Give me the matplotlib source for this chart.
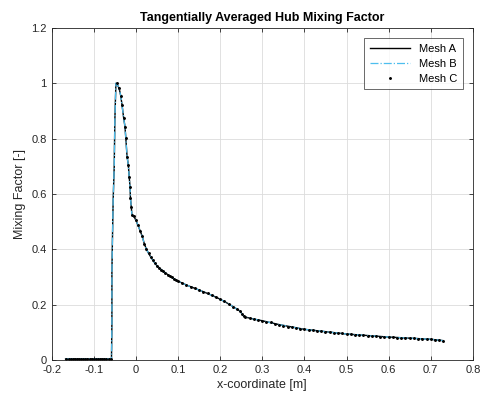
import numpy as np
import matplotlib
matplotlib.use('Agg')
import matplotlib.pyplot as plt

plt.rcParams['font.family'] = ['Liberation Sans', 'DejaVu Sans']

### Data
# Mesh A / Mesh B: line through the main shape
line_x = [-0.167, -0.06, -0.058, -0.057, -0.057, -0.055, -0.054, -0.0515, -0.0515, -0.050,
          -0.0475, -0.046, -0.040, -0.036, -0.033, -0.029, -0.026, -0.024, -0.021, -0.018,
          -0.016, -0.014, -0.013, -0.011, -0.0095, -0.005, 0.000, 0.005, 0.010, 0.015,
          0.020, 0.025, 0.030, 0.035, 0.040, 0.045, 0.050, 0.060, 0.070, 0.080,
          0.090, 0.100, 0.120, 0.140, 0.160, 0.180, 0.200, 0.220, 0.240, 0.248,
          0.252, 0.256, 0.260, 0.280, 0.300, 0.340, 0.400, 0.500, 0.600, 0.700,
          0.730]
line_y = [0.004, 0.004, 0.006, 0.134, 0.320, 0.500, 0.580, 0.700, 0.700, 0.868,
          1.000, 1.000, 0.983, 0.955, 0.922, 0.874, 0.844, 0.802, 0.735, 0.705,
          0.663, 0.627, 0.585, 0.554, 0.524, 0.520, 0.505, 0.487, 0.467, 0.447,
          0.420, 0.400, 0.386, 0.373, 0.361, 0.350, 0.341, 0.327, 0.315, 0.304,
          0.294, 0.285, 0.271, 0.259, 0.247, 0.234, 0.220, 0.203, 0.184, 0.176,
          0.166, 0.158, 0.155, 0.148, 0.142, 0.128, 0.111, 0.094, 0.083, 0.075,
          0.070]

# Mesh C: sampled points
dots_x = [-0.165, -0.160, -0.155, -0.150, -0.145, -0.140, -0.135, -0.130, -0.125, -0.120,
          -0.115, -0.110, -0.105, -0.100, -0.095, -0.090, -0.085, -0.080, -0.075, -0.070,
          -0.065, -0.060,
          -0.046, -0.040, -0.036, -0.033, -0.029, -0.026, -0.024, -0.021, -0.018, -0.016,
          -0.014, -0.013, -0.011, -0.0095,
          -0.005, 0.000, 0.005, 0.010, 0.015, 0.020, 0.025, 0.030, 0.035, 0.040,
          0.045, 0.050, 0.055, 0.060, 0.065, 0.070, 0.075, 0.080, 0.085, 0.090,
          0.095, 0.100, 0.110, 0.120, 0.130, 0.140, 0.150, 0.160, 0.170, 0.180,
          0.190, 0.200, 0.210, 0.220, 0.230, 0.240, 0.248, 0.252, 0.256, 0.260,
          0.270, 0.280, 0.290, 0.300, 0.310, 0.320, 0.330, 0.340, 0.350, 0.360,
          0.370, 0.380, 0.390, 0.400, 0.410, 0.420, 0.430, 0.440, 0.450, 0.460,
          0.470, 0.480, 0.490, 0.500, 0.510, 0.520, 0.530, 0.540, 0.550, 0.560,
          0.570, 0.580, 0.590, 0.600, 0.610, 0.620, 0.630, 0.640, 0.650, 0.660,
          0.670, 0.680, 0.690, 0.700, 0.710, 0.720, 0.730]
dots_y = [0.004, 0.004, 0.004, 0.004, 0.004, 0.004, 0.004, 0.004, 0.004, 0.004,
          0.004, 0.004, 0.004, 0.004, 0.004, 0.004, 0.004, 0.004, 0.004, 0.004,
          0.004, 0.004,
          1.000, 0.983, 0.955, 0.922, 0.874, 0.844, 0.802, 0.735, 0.705, 0.663,
          0.627, 0.585, 0.554, 0.524,
          0.520, 0.505, 0.487, 0.467, 0.447, 0.420, 0.400, 0.386, 0.373, 0.361,
          0.350, 0.341, 0.334, 0.327, 0.321, 0.315, 0.309, 0.304, 0.299, 0.294,
          0.289, 0.285, 0.278, 0.271, 0.265, 0.259, 0.253, 0.247, 0.241, 0.234,
          0.227, 0.220, 0.212, 0.203, 0.193, 0.184, 0.176, 0.166, 0.158, 0.155,
          0.151, 0.148, 0.145, 0.142, 0.139, 0.136, 0.132, 0.128, 0.124, 0.121,
          0.118, 0.116, 0.113, 0.111, 0.109, 0.107, 0.105, 0.104, 0.102, 0.100,
          0.099, 0.097, 0.096, 0.094, 0.093, 0.092, 0.091, 0.090, 0.088, 0.087,
          0.086, 0.085, 0.084, 0.083, 0.082, 0.081, 0.080, 0.079, 0.078, 0.078,
          0.077, 0.076, 0.075, 0.075, 0.074, 0.072, 0.070]

x_ticks = [-0.2, -0.1, 0, 0.1, 0.2, 0.3, 0.4, 0.5, 0.6, 0.7, 0.8]
x_tick_labels = ['-0.2', '-0.1', '0', '0.1', '0.2', '0.3', '0.4', '0.5', '0.6', '0.7', '0.8']
y_ticks = [0, 0.2, 0.4, 0.6, 0.8, 1.0, 1.2]
y_tick_labels = ['0', '0.2', '0.4', '0.6', '0.8', '1', '1.2']


### Make plot
text_col = '#262626'
fig = plt.figure(figsize=(4.83, 4.08), dpi=100)
ax = fig.add_axes([0.107, 0.1176, 0.872, 0.8137])

ax.plot(line_x, line_y, color='black', linewidth=1.0, label='Mesh A')
ax.plot(line_x, line_y, color='#4DBEEE', linewidth=0.9, linestyle='-.', label='Mesh B')
ax.plot(dots_x, dots_y, linestyle='none', marker='.', markersize=2.2,
        color='black', label='Mesh C')

ax.set_xlim(-0.2, 0.8)
ax.set_ylim(0, 1.2)
ax.set_xticks(x_ticks)
ax.set_xticklabels(x_tick_labels)
ax.set_yticks(y_ticks)
ax.set_yticklabels(y_tick_labels)
ax.grid(True, color='#dcdcdc', linewidth=0.6)
ax.set_axisbelow(True)
ax.tick_params(direction='in', length=3, width=0.6, colors=text_col, labelsize=8,
               top=True, right=True)
for s in ax.spines.values():
    s.set_color(text_col)
    s.set_linewidth(0.6)

ax.set_title('Tangentially Averaged Hub Mixing Factor', fontsize=9,
             fontweight='bold', color='black', pad=5)
ax.set_xlabel('x-coordinate [m]', fontsize=9, color=text_col, labelpad=3)
ax.set_ylabel('Mixing Factor [-]', fontsize=9, color=text_col, labelpad=4)

leg = ax.legend(loc='upper right', fontsize=8, frameon=True, fancybox=False,
                borderaxespad=0.9, handlelength=3.6, labelspacing=0.45,
                borderpad=0.5, markerscale=1.0, alignment='right')
leg.get_frame().set_edgecolor(text_col)
leg.get_frame().set_linewidth(0.6)
for t in leg.get_texts():
    t.set_color('black')

fig.savefig('out.png', dpi=100)
plt.close(fig)
